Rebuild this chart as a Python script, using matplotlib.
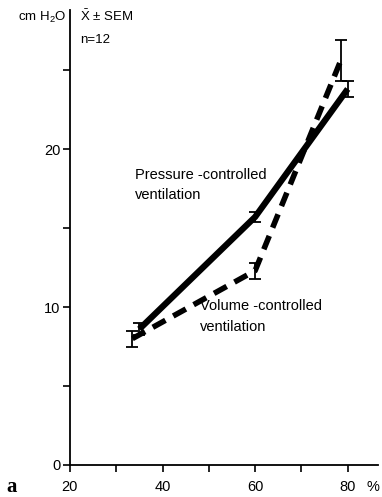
import matplotlib
matplotlib.use("Agg")
import matplotlib.pyplot as plt

# Mean airway pressure (cm H2O) vs. inspiratory time fraction (%)
pc_x = [35.0, 60.0, 80.0]
pc_y = [8.6, 15.7, 23.8]
pc_sem = [0.4, 0.3, 0.5]

vc_x = [33.5, 60.0, 78.5]
vc_y = [8.0, 12.3, 25.6]
vc_sem = [0.5, 0.5, 1.3]

x_ticks = [20, 30, 40, 50, 60, 70, 80]
x_labels = ["20", "", "40", "", "60", "", "80"]
y_ticks = [0, 5, 10, 15, 20, 25]
y_labels = ["0", "", "10", "", "20", ""]

plt.rcParams["font.family"] = ["Liberation Sans", "DejaVu Sans"]
plt.rcParams["mathtext.fontset"] = "custom"
plt.rcParams["mathtext.rm"] = "Liberation Sans"

fig = plt.figure(figsize=(3.82, 4.97), dpi=100)
ax = fig.add_axes([0.183, 0.0644, 0.806, 0.9155])

ax.plot(pc_x, pc_y, color="black", lw=4.5, solid_capstyle="butt")
ax.errorbar(pc_x, pc_y, yerr=pc_sem, fmt="none", ecolor="black",
            elinewidth=1.3, capsize=4, capthick=1.3)

ax.plot(vc_x, vc_y, color="black", lw=4.0, ls=(0, (2.6, 1.6)),
        dash_capstyle="butt")
ax.errorbar(vc_x, vc_y, yerr=vc_sem, fmt="none", ecolor="black",
            elinewidth=1.3, capsize=4, capthick=1.3)

ax.set_xlim(20, 86.5)
ax.set_ylim(0, 28.8)
ax.set_xticks(x_ticks)
ax.set_xticklabels(x_labels)
ax.set_yticks(y_ticks)
ax.set_yticklabels(y_labels)
ax.tick_params(direction="out", length=5, width=1.2, labelsize=10.5)
ax.tick_params(axis="x", pad=6)
ax.tick_params(axis="y", pad=2)
for s in ("top", "right"):
    ax.spines[s].set_visible(False)
for s in ("left", "bottom"):
    ax.spines[s].set_linewidth(1.3)

ax.text(34.0, 17.7, "Pressure -controlled\nventilation", fontsize=10.5,
        ha="left", va="center", linespacing=1.55)
ax.text(48.0, 9.4, "Volume -controlled\nventilation", fontsize=10.5,
        ha="left", va="center", linespacing=1.55)

fig.text(18 / 382, 1 - 17 / 497, "cm H$_2$O", fontsize=9.5, ha="left", va="center")
fig.text(80 / 382, 1 - 16 / 497, r"$\bar{\mathrm{X}}$ $\pm$ SEM", fontsize=9.5,
         ha="left", va="center")
fig.text(80 / 382, 1 - 40 / 497, "n=12", fontsize=9.5, ha="left", va="center")
fig.text(373 / 382, 1 - 487 / 497, "%", fontsize=10.5, ha="center", va="center")
fig.text(6 / 382, 1 - 487 / 497, "a", fontsize=15, fontweight="bold",
         family="Liberation Serif", ha="left", va="center")

fig.savefig("out.png", dpi=100)
